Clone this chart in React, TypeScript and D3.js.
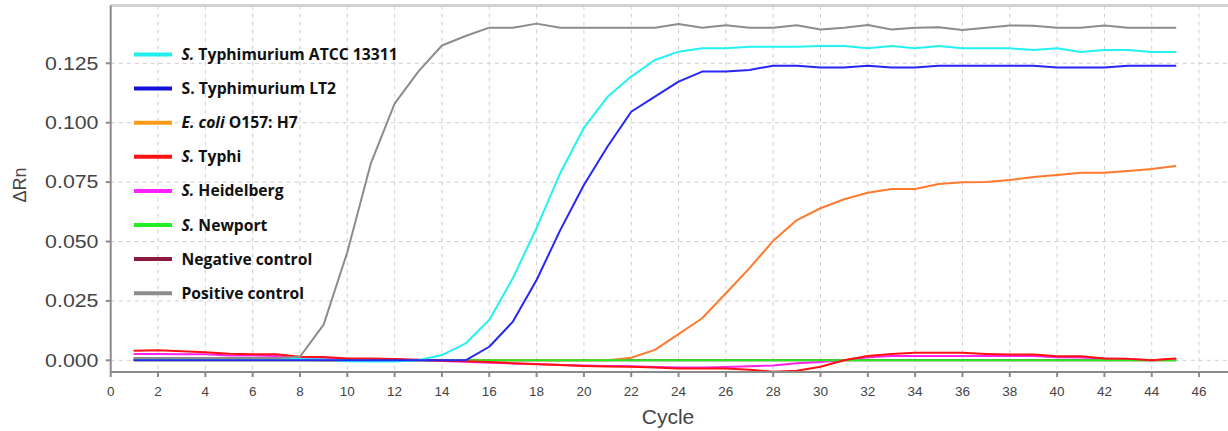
import React, { useEffect } from "react";
import * as d3 from "d3";

// Amplification cycles 1..45
const cycles: number[] = d3.range(1, 46);

// ΔRn per cycle for each sample
const atcc13311: number[] = [
  0.0008, 0.0008, 0.0008, 0.0008, 0.0008, 0.0007, 0.0006, 0.0005, 0.0003, -0.0004,
  -0.0005, -0.0005, 0.0, 0.0022, 0.0071, 0.017, 0.0346, 0.0557, 0.0788, 0.0978,
  0.1109, 0.1194, 0.1264, 0.1299, 0.1313, 0.1313, 0.132, 0.132, 0.132, 0.1323,
  0.1323, 0.1313, 0.1323, 0.1313, 0.1323, 0.1313, 0.1313, 0.1313, 0.1306, 0.1313,
  0.1298, 0.1306, 0.1306, 0.1298, 0.1298,
];
const lt2: number[] = [
  0.0, 0.0, 0.0, 0.0, 0.0, 0.0, 0.0, 0.0, 0.0, 0.0,
  0.0, 0.0, 0.0, 0.0, 0.0, 0.0057, 0.0163, 0.0338, 0.0548, 0.0738,
  0.09, 0.1046, 0.111, 0.1173, 0.1215, 0.1215, 0.1222, 0.124, 0.124, 0.1232,
  0.1232, 0.124, 0.1232, 0.1232, 0.124, 0.124, 0.124, 0.124, 0.124, 0.1232,
  0.1232, 0.1232, 0.124, 0.124, 0.124,
];
const ecoliO157: number[] = [
  0.0, 0.0, 0.0, 0.0, 0.0, 0.0, 0.0, 0.0, 0.0, 0.0,
  0.0, 0.0, 0.0, 0.0, 0.0, 0.0, 0.0, 0.0, 0.0, 0.0,
  0.0, 0.0011, 0.0044, 0.011, 0.0177, 0.0282, 0.0388, 0.0503, 0.059, 0.064,
  0.0678, 0.0705, 0.0721, 0.0721, 0.0742, 0.0749, 0.075, 0.0759, 0.0771, 0.078,
  0.0789, 0.0789, 0.0797, 0.0805, 0.0818,
];
const typhi: number[] = [
  0.004, 0.0042, 0.0038, 0.0034, 0.0028, 0.0025, 0.0025, 0.0015, 0.0014, 0.0008,
  0.0008, 0.0005, 0.0002, -0.0002, -0.0004, -0.0007, -0.0012, -0.0017, -0.002, -0.0024,
  -0.0026, -0.0027, -0.003, -0.0034, -0.0034, -0.0034, -0.004, -0.0048, -0.0044, -0.0027,
  0.0, 0.0018, 0.0027, 0.0032, 0.0032, 0.0032, 0.0027, 0.0024, 0.0024, 0.0017,
  0.0017, 0.0008, 0.0006, 0.0, 0.0008,
];
const heidelberg: number[] = [
  0.0027, 0.0027, 0.0025, 0.0025, 0.002, 0.002, 0.0018, 0.001, 0.001, 0.0005,
  0.0003, 0.0003, 0.0, -0.0003, -0.0006, -0.001, -0.0013, -0.0016, -0.002, -0.0022,
  -0.0024, -0.0025, -0.0028, -0.003, -0.003, -0.0028, -0.0025, -0.0022, -0.0012, -0.0007,
  0.0, 0.0013, 0.0018, 0.0018, 0.0018, 0.0018, 0.0018, 0.0018, 0.0018, 0.0013,
  0.0012, 0.0008, 0.0005, 0.0, 0.0005,
];
const newport: number[] = [
  0.0, 0.0, 0.0, 0.0, 0.0, 0.0, 0.0, 0.0, 0.0, 0.0,
  0.0, 0.0, 0.0, 0.0, 0.0, 0.0, 0.0, 0.0, 0.0, 0.0,
  0.0, 0.0, 0.0, 0.0, 0.0, 0.0, 0.0, 0.0, 0.0, 0.0,
  0.0, 0.0, 0.0, 0.0, 0.0, 0.0, 0.0, 0.0, 0.0, 0.0,
  0.0, 0.0, 0.0, 0.0, 0.0,
];
const negativeControl: number[] = [
  0.0003, 0.0003, 0.0003, 0.0002, 0.0002, 0.0002, 0.0001, 0.0001, 0.0, 0.0,
  0.0, 0.0, 0.0, 0.0, 0.0, 0.0, 0.0, 0.0, 0.0, 0.0,
  0.0, 0.0, 0.0, 0.0, 0.0, 0.0, 0.0, 0.0, 0.0, 0.0,
  0.0, 0.0, 0.0, 0.0, 0.0, 0.0, 0.0, 0.0, 0.0, 0.0,
  0.0, 0.0, 0.0, 0.0, 0.0,
];
const positiveControl: number[] = [
  0.001, 0.001, 0.001, 0.001, 0.001, 0.001, 0.001, 0.0015, 0.015, 0.0455,
  0.083, 0.108, 0.1215, 0.1325, 0.1365, 0.14, 0.14, 0.1417, 0.14, 0.14,
  0.14, 0.14, 0.14, 0.1415, 0.14, 0.141, 0.14, 0.14, 0.141, 0.1392,
  0.14, 0.1411, 0.1392, 0.14, 0.1402, 0.139, 0.14, 0.1409, 0.1408, 0.14,
  0.14, 0.1409, 0.14, 0.14, 0.14,
];

const xTicks: number[] = d3.range(0, 47, 2);
const yTicks: number[] = [0, 0.025, 0.05, 0.075, 0.1, 0.125];

type Part = { t: string; i?: boolean };
type Series = { label: Part[]; values: number[]; color: string; key: string; swatch: string };

const series: Series[] = [
  { key: "atcc", label: [{ t: "S.", i: true }, { t: " Typhimurium ATCC 13311" }], values: atcc13311, color: "#22f2f2", swatch: "#22eeee" },
  { key: "lt2", label: [{ t: "S. Typhimurium LT2" }], values: lt2, color: "#2626f5", swatch: "#1010d8" },
  { key: "ecoli", label: [{ t: "E. coli", i: true }, { t: " O157: H7" }], values: ecoliO157, color: "#ff7a2e", swatch: "#ff9a18" },
  { key: "typhi", label: [{ t: "S.", i: true }, { t: " Typhi" }], values: typhi, color: "#ff1010", swatch: "#ff1010" },
  { key: "heid", label: [{ t: "S.", i: true }, { t: " Heidelberg" }], values: heidelberg, color: "#ff22ee", swatch: "#ff22ff" },
  { key: "newport", label: [{ t: "S.", i: true }, { t: " Newport" }], values: newport, color: "#22ee22", swatch: "#22ee22" },
  { key: "neg", label: [{ t: "Negative control" }], values: negativeControl, color: "#8b1a3c", swatch: "#8b1a3c" },
  { key: "pos", label: [{ t: "Positive control" }], values: positiveControl, color: "#8c8c8c", swatch: "#8c8c8c" },
];

// bottom-to-top stacking of the curves
const drawOrder = ["neg", "ecoli", "heid", "newport", "typhi", "atcc", "lt2", "pos"];

const W = 1228;
const H = 431;
const left = 110.7;
const bottom = 372;
const top = 5.5;

export default function App() {
  useEffect(() => {
    document.body.style.margin = "0";
  }, []);

  const x = d3.scaleLinear().domain([0, 46]).range([left, left + 46 * 23.66]);
  const y = d3.scaleLinear().domain([0, 0.125]).range([360.3, 63.3]);

  const line = d3
    .line<number>()
    .x((_, i) => x(cycles[i]))
    .y((v) => y(v))
    .curve(d3.curveLinear);

  const ordered = drawOrder.map((k) => series.find((s) => s.key === k)!);

  return (
    <svg width={W} height={H} style={{ position: "absolute", left: 0, top: 0, display: "block" }}>
      <rect x={0} y={0} width={W} height={H} fill="#ffffff" />

      {/* grid */}
      <g stroke="#cfcfcf" strokeWidth={1} strokeDasharray="4,4">
        {xTicks.filter((t) => t > 0).map((t) => (
          <line key={"gx" + t} x1={x(t)} x2={x(t)} y1={top} y2={bottom} />
        ))}
        {yTicks.map((t) => (
          <line key={"gy" + t} x1={left} x2={W} y1={y(t)} y2={y(t)} />
        ))}
      </g>

      {/* top frame */}
      <line x1={left} x2={W} y1={top} y2={top} stroke="#d2d2d2" strokeWidth={3} />

      {/* curves */}
      <g fill="none" strokeWidth={2} strokeLinejoin="round" strokeLinecap="round">
        {ordered.map((s) => (
          <path key={s.key} d={line(s.values) || ""} stroke={s.color} />
        ))}
      </g>

      {/* axes */}
      <g stroke="#8a8a8a" strokeWidth={2}>
        <line x1={left} x2={left} y1={top} y2={bottom} />
        <line x1={left} x2={W} y1={bottom} y2={bottom} />
        {yTicks.map((t) => (
          <line key={"ty" + t} x1={left - 5} x2={left} y1={y(t)} y2={y(t)} />
        ))}
        {xTicks.map((t) => (
          <line key={"tx" + t} x1={x(t)} x2={x(t)} y1={bottom} y2={bottom + 5} />
        ))}
      </g>

      {/* tick labels */}
      <g fontFamily="'Liberation Sans', Arial, sans-serif" fill="#444">
        {yTicks.map((t) => (
          <text
            key={"ly" + t}
            transform={`translate(98.5, ${y(t) + 6.3}) scale(1.22, 1)`}
            textAnchor="end"
            fontSize={17.5}
          >
            {d3.format(".3f")(t)}
          </text>
        ))}
        {xTicks.map((t) => (
          <text key={"lx" + t} x={x(t)} y={396} textAnchor="middle" fontSize={13.5}>
            {t}
          </text>
        ))}
        <text x={668} y={424} textAnchor="middle" fontSize={21}>
          Cycle
        </text>
        <text transform="translate(26, 185) rotate(-90)" textAnchor="middle" fontSize={18}>
          ΔRn
        </text>
      </g>

      {/* legend */}
      <g fontFamily="'Open Sans', Lato, sans-serif" fontWeight="bold" fontSize={15.7} fill="#111">
        {series.map((s, i) => {
          const cy = 54.5 + i * 34.1;
          return (
            <g key={"lg" + s.key}>
              <line x1={134} x2={172} y1={cy} y2={cy} stroke={s.swatch} strokeWidth={4} />
              <text x={181.5} y={cy + 5.5}>
                {s.label.map((p, j) => (
                  <tspan key={j} fontStyle={p.i ? "italic" : "normal"}>
                    {p.t}
                  </tspan>
                ))}
              </text>
            </g>
          );
        })}
      </g>
    </svg>
  );
}
